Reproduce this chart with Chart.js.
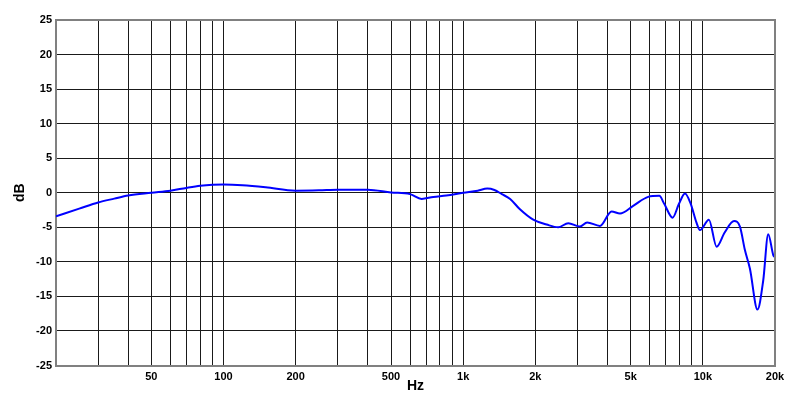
<!DOCTYPE html>
<html>
<head>
<meta charset="utf-8">
<script src="https://cdn.jsdelivr.net/npm/chart.js@4"></script>
<style>
html,body{margin:0;padding:0;background:#fff;}
#wrap{width:800px;height:415px;}
</style>
</head>
<body>
<div id="wrap"><canvas id="c" width="800" height="415"></canvas></div>
<script>
// Frequency response data (Hz, dB)
const freqs = [20, 25, 30, 35, 40, 50, 60, 70, 80, 90, 100, 120, 150, 200, 250, 300, 400, 500, 600, 671, 750, 850, 1000, 1150, 1260, 1350, 1450, 1570, 1725, 1960, 2230, 2490, 2744, 3070, 3290, 3720, 4160, 4510, 5120, 5915, 6580, 6900, 7480, 7950, 8420, 8900, 9400, 9720, 10600, 11410, 12330, 13500, 14280, 14980, 15720, 16900, 17860, 18740, 19700, 20000];
const dB = [-3.4, -2.3, -1.4, -0.85, -0.4, 0.0, 0.3, 0.7, 1.0, 1.15, 1.2, 1.1, 0.8, 0.3, 0.35, 0.45, 0.45, 0.05, -0.2, -0.9, -0.6, -0.4, 0.0, 0.3, 0.6, 0.4, -0.2, -0.9, -2.4, -3.9, -4.6, -5.0, -4.4, -4.9, -4.3, -4.8, -2.7, -3.0, -1.9, -0.6, -0.45, -1.6, -3.6, -1.6, -0.1, -1.6, -4.3, -5.4, -3.9, -7.8, -5.75, -4.1, -4.9, -8.3, -11.0, -16.9, -12.7, -6.0, -9.1, -9.3];

// Axis ticks
const xGridTicks = [20, 30, 40, 50, 60, 70, 80, 90, 100, 200, 300, 400, 500, 600, 700, 800, 900, 1000, 2000, 3000, 4000, 5000, 6000, 7000, 8000, 9000, 10000, 20000];
const xLabelValues = [50, 100, 200, 500, 1000, 2000, 5000, 10000, 20000];
const xLabelTexts = ['50', '100', '200', '500', '1k', '2k', '5k', '10k', '20k'];
const yMin = -25, yMax = 25, yStep = 5;

const points = freqs.map((f, i) => ({x: f, y: dB[i]}));
const labelFont = {family: 'Liberation Sans, Arial, sans-serif', size: 11, weight: 'bold'};

new Chart(document.getElementById('c'), {
  type: 'line',
  data: {
    datasets: [{
      data: points,
      borderColor: '#0000ff',
      borderWidth: 2,
      pointRadius: 0,
      fill: false,
      cubicInterpolationMode: 'monotone'
    }]
  },
  options: {
    responsive: false,
    animation: false,
    devicePixelRatio: 1,
    layout: {padding: {top: 20, right: 25, left: 0, bottom: 0}},
    plugins: {legend: {display: false}, tooltip: {enabled: false}},
    scales: {
      x: {
        type: 'logarithmic',
        min: 20,
        max: 20000,
        afterBuildTicks: (scale) => { scale.ticks = xGridTicks.map(v => ({value: v})); },
        afterFit: (scale) => { scale.height = 49.5; },
        ticks: {
          autoSkip: false,
          maxRotation: 0,
          padding: 5,
          color: '#000',
          font: labelFont,
          callback: (v) => { const i = xLabelValues.indexOf(v); return i >= 0 ? xLabelTexts[i] : ''; }
        },
        grid: {color: '#1a1a1a', lineWidth: 1, drawTicks: false},
        border: {color: '#808080', width: 2},
        title: {display: true, text: 'Hz', color: '#000', padding: {top: 0, bottom: 20},
          font: {family: 'Liberation Sans, Arial, sans-serif', size: 14, weight: 'bold'}}
      },
      y: {
        type: 'linear',
        min: yMin,
        max: yMax,
        afterFit: (scale) => { scale.width = 56; },
        ticks: {stepSize: yStep, padding: 4, color: '#000', font: labelFont},
        grid: {color: '#1a1a1a', lineWidth: 1, drawTicks: false},
        border: {color: '#808080', width: 2},
        title: {display: true, text: 'dB', color: '#000', padding: {top: 11.6, bottom: 0},
          font: {family: 'Liberation Sans, Arial, sans-serif', size: 14, weight: 'bold'}}
      }
    }
  },
  plugins: [{
    id: 'rightTopBorder',
    afterDatasetsDraw(chart) {
      const {ctx, chartArea: a} = chart;
      ctx.save();
      ctx.strokeStyle = '#808080';
      ctx.lineWidth = 2;
      ctx.beginPath();
      ctx.moveTo(a.left, a.top); ctx.lineTo(a.right, a.top); ctx.lineTo(a.right, a.bottom);
      ctx.stroke();
      ctx.restore();
    }
  }]
});
</script>
</body>
</html>
